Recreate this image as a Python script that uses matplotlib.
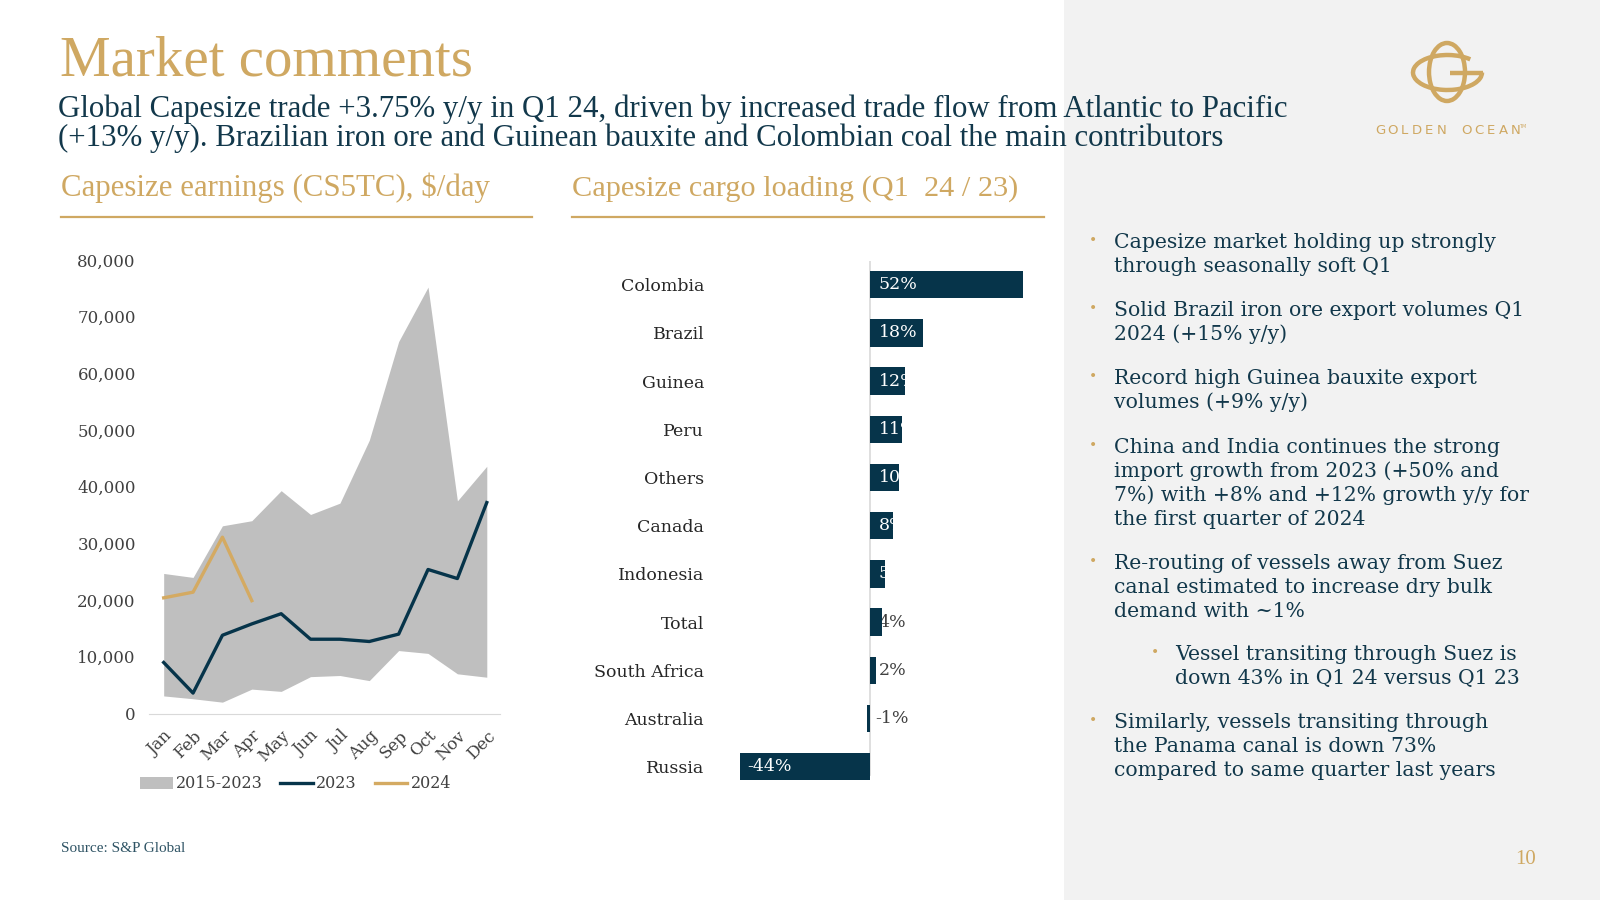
import matplotlib
matplotlib.use('Agg')
import matplotlib.pyplot as plt
from matplotlib.patches import Rectangle, Arc, Patch
from matplotlib.lines import Line2D
from matplotlib.ticker import FuncFormatter
import matplotlib.transforms as mtransforms

plt.rcParams['font.family'] = ['DejaVu Serif']

GOLD = '#CFA862'
NAVY = '#06344A'
TEXT_NAVY = '#12384B'
GREY_BAND = '#BFBFBF'
PANEL = '#F2F2F2'

# ---- data ----
months = ['Jan', 'Feb', 'Mar', 'Apr', 'May', 'Jun', 'Jul', 'Aug', 'Sep', 'Oct', 'Nov', 'Dec']
band_low = [3100, 2600, 2000, 4300, 3900, 6500, 6700, 5800, 11100, 10600, 7000, 6400]
band_high = [24700, 24000, 33100, 34000, 39300, 35100, 37100, 48200, 65600, 75200, 37500, 43600]
earn_2023 = [9000, 3600, 13800, 15800, 17600, 13100, 13100, 12700, 14000, 25400, 23800, 37200]
earn_2024 = [20400, 21400, 31100, 19900]

countries = ['Colombia', 'Brazil', 'Guinea', 'Peru', 'Others', 'Canada',
             'Indonesia', 'Total', 'South Africa', 'Australia', 'Russia']
loading_chg = [52, 18, 12, 11, 10, 8, 5, 4, 2, -1, -44]

bullets = [
    ['Capesize market holding up strongly', 'through seasonally soft Q1'],
    ['Solid Brazil iron ore export volumes Q1', '2024 (+15% y/y)'],
    ['Record high Guinea bauxite export', 'volumes (+9% y/y)'],
    ['China and India continues the strong', 'import growth from 2023 (+50% and',
     '7%) with +8% and +12% growth y/y for', 'the first quarter of 2024'],
    ['Re-routing of vessels away from Suez', 'canal estimated to increase dry bulk',
     'demand with ~1%'],
    ['Vessel transiting through Suez is', 'down 43% in Q1 24 versus Q1 23'],
    ['Similarly, vessels transiting through', 'the Panama canal is down 73%',
     'compared to same quarter last years'],
]
bullet_y = [240, 308, 376, 445, 561, 652, 720]
bullet_level = [0, 0, 0, 0, 0, 1, 0]

W, H = 1600, 900
fig = plt.figure(figsize=(16, 9), dpi=100, facecolor='white')

# background / decoration layer in pixel coords
ax0 = fig.add_axes([0, 0, 1, 1], zorder=0)
ax0.set_xlim(0, W)
ax0.set_ylim(H, 0)
ax0.axis('off')
ax0.add_patch(Rectangle((1064, 0), W - 1064, H, color=PANEL, lw=0))

ax0.text(60, 76, 'Market comments', family='Liberation Serif', fontsize=41,
         color=GOLD, va='baseline')
ax0.text(58, 116.5, 'Global Capesize trade +3.75% y/y in Q1 24, driven by increased '
         'trade flow from Atlantic to Pacific', family='Liberation Serif',
         fontsize=22.2, color=TEXT_NAVY, va='baseline')
ax0.text(58, 146, '(+13% y/y). Brazilian iron ore and Guinean bauxite and Colombian '
         'coal the main contributors', family='Liberation Serif',
         fontsize=22.2, color=TEXT_NAVY, va='baseline')

ax0.text(61, 196, 'Capesize earnings (CS5TC), $/day', family='Liberation Serif',
         fontsize=22.2, color=GOLD, va='baseline')
ax0.text(572, 196, 'Capesize cargo loading (Q1  24 / 23)', family='Liberation Serif',
         fontsize=21.8, color=GOLD, va='baseline')
ax0.plot([61, 532], [217, 217], color=GOLD, lw=1.6)
ax0.plot([572, 1044], [217, 217], color=GOLD, lw=1.6)

ax0.text(61, 849, 'Source: S&P Global', family='Liberation Serif', fontsize=11,
         color='#2E5364', va='center')
ax0.text(1526, 859, '10', family='Liberation Serif', fontsize=15, color=GOLD,
         va='center', ha='center')

# logo
ax0.add_patch(Arc((1447, 72), 36, 58, color=GOLD, lw=3.2))
ax0.add_patch(Arc((1447.5, 72.5), 69, 35, theta1=0, theta2=330, color=GOLD, lw=3.2))
ax0.plot([1450, 1483], [73, 73], color=GOLD, lw=3.2, solid_capstyle='butt')
for i, ch in enumerate('GOLDEN OCEAN'):
    ax0.text(1380 + i * 12.3, 130, ch, family='DejaVu Sans', fontsize=9.5,
             color=GOLD, ha='center', va='center')
ax0.text(1523, 126, 'TM', family='DejaVu Sans', fontsize=3.5, color=GOLD,
         ha='center', va='center')

# bullets
for lines, y0, lvl in zip(bullets, bullet_y, bullet_level):
    bx = 1093 if lvl == 0 else 1155
    tx = 1114 if lvl == 0 else 1175
    ax0.text(bx, y0 + 1, '\u2022', fontsize=10, color=GOLD, ha='center', va='center')
    for j, ln in enumerate(lines):
        ax0.text(tx, y0 + 8 + 24 * j, ln, fontsize=14.7, color=TEXT_NAVY, va='baseline')

# ---- line chart ----
ax1 = fig.add_axes([149 / W, (H - 713.5) / H, 351 / W, 453.6 / H], zorder=1)
ax1.set_facecolor('none')
x = list(range(len(months)))
ax1.fill_between(x, band_low, band_high, color=GREY_BAND, lw=0)
ax1.plot(x, earn_2023, color=NAVY, lw=2.4)
ax1.plot(x[:len(earn_2024)], earn_2024, color='#D4AA62', lw=2.4)
ax1.set_xlim(-0.5, 11.45)
ax1.set_ylim(0, 80000)
ax1.set_yticks(range(0, 80001, 10000))
ax1.yaxis.set_major_formatter(FuncFormatter(lambda v, p: f'{int(v):,}'))
ax1.set_xticks(x)
ax1.set_xticklabels(months, rotation=45, ha='right', rotation_mode='anchor')
ax1.tick_params(axis='y', length=0, pad=9.5, labelsize=12, labelcolor='#404040')
ax1.tick_params(axis='x', length=0, pad=10, labelsize=12, labelcolor='#404040')
for s in ['left', 'top', 'right']:
    ax1.spines[s].set_visible(False)
ax1.spines['bottom'].set_color('#D9D9D9')

handles = [Patch(color=GREY_BAND, lw=0), Line2D([], [], color=NAVY, lw=2.4),
           Line2D([], [], color='#D4AA62', lw=2.4)]
ax1.legend(handles, ['2015-2023', '2023', '2024'], ncol=3, frameon=False,
           loc='center left', bbox_to_anchor=(140 / W, 1 - 784 / H),
           bbox_transform=fig.transFigure, fontsize=11.5, handlelength=2.05,
           handletextpad=0.2, columnspacing=1.1, borderpad=0, borderaxespad=0,
           labelcolor='#404040')

# ---- bar chart ----
ax2 = fig.add_axes([725 / W, (H - 790.8) / H, 305 / W, 530.2 / H], zorder=1)
ax2.set_facecolor('none')
yy = list(range(len(countries)))
bars = ax2.barh(yy, loading_chg, height=0.57, color=NAVY, zorder=3)
ax2.set_ylim(10.5, -0.5)
ax2.set_xlim(-49.05, 54.3)
ax2.axvline(0, ymin=0.03, ymax=1.0, color='#D9D9D9', lw=1.2, zorder=1)
ax2.set_xticks([])
ax2.set_yticks(yy)
ax2.set_yticklabels(countries)
ax2.tick_params(axis='y', length=0, pad=15, labelsize=12.5, labelcolor='#262626')
for s in ax2.spines.values():
    s.set_visible(False)

for b, v in zip(bars, loading_chg):
    yc = b.get_y() + b.get_height() / 2
    lbl = f'{v}%'
    if v >= 5:
        off = mtransforms.offset_copy(ax2.transData, fig=fig, x=9 * 0.72, y=0, units='points')
        t = ax2.text(0, yc, lbl, transform=off, color='white', fontsize=12.5,
                     va='center', ha='left', zorder=4)
        t.set_clip_path(b)
    elif v <= -10:
        off = mtransforms.offset_copy(ax2.transData, fig=fig, x=7 * 0.72, y=0, units='points')
        ax2.text(v, yc, lbl, transform=off, color='white', fontsize=12.5,
                 va='center', ha='left', zorder=4)
    else:
        dx = 9 if v > 0 else 5
        off = mtransforms.offset_copy(ax2.transData, fig=fig, x=dx * 0.72, y=0, units='points')
        ax2.text(0, yc, lbl, transform=off, color='#404040', fontsize=12.5,
                 va='center', ha='left', zorder=2)

fig.savefig('out.png', dpi=100)
